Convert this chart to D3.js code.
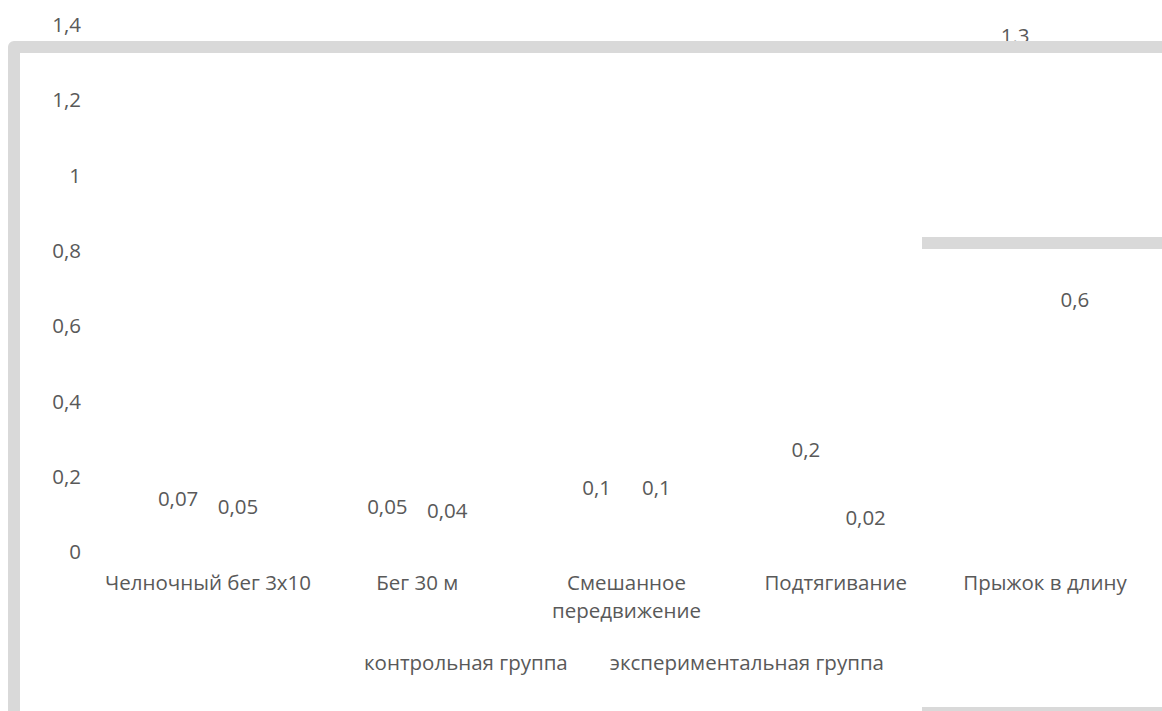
<!DOCTYPE html>
<html>
<head>
<meta charset="utf-8">
<script src="https://cdn.jsdelivr.net/npm/d3@7"></script>
<style>
  html, body { margin: 0; padding: 0; background: #ffffff; }
  svg { display: block; }
  text { font-family: "Open Sans", "Noto Sans", sans-serif; fill: #595959; }
</style>
</head>
<body>
<svg id="chart" width="1162" height="711"></svg>
<script>
// Прирост показателей физической подготовленности
const categories = ["Челночный бег 3х10", "Бег 30 м", "Смешанное передвижение", "Подтягивание", "Прыжок в длину"];
const seriesNames = ["контрольная группа", "экспериментальная группа"];
const controlValues = [0.07, 0.05, 0.1, 0.2, 1.3];
const experimentalValues = [0.05, 0.04, 0.1, 0.02, 0.6];
const controlLabels = ["0,07", "0,05", "0,1", "0,2", "1.3"];
const experimentalLabels = ["0,05", "0,04", "0,1", "0,02", "0,6"];
const yTicks = [0, 0.2, 0.4, 0.6, 0.8, 1, 1.2, 1.4];

const FONT = 20.5;
const svg = d3.select("#chart");

const ruLocale = d3.formatLocale({ decimal: ",", thousands: " ", grouping: [3], currency: ["", " ₽"] });
const fmt = ruLocale.format("~g");

const y = d3.scaleLinear().domain([0, 1.4]).range([551.5, 24.2]);
const x = d3.scaleBand().domain(categories).range([103.4, 1149.6]).padding(0);
const xs = d3.scaleBand().domain(seriesNames).range([0, x.bandwidth()]).paddingInner(0).paddingOuter(0.75);

const series = [
  { name: seriesNames[0], values: controlValues, labels: controlLabels },
  { name: seriesNames[1], values: experimentalValues, labels: experimentalLabels }
];

// Y axis: labels only, no line and no tick marks
const yAxis = svg.append("g")
  .attr("transform", "translate(81,0)")
  .call(d3.axisLeft(y).tickValues(yTicks).tickSize(0).tickPadding(0).tickFormat(fmt));
yAxis.select(".domain").remove();
yAxis.selectAll("text")
  .attr("font-size", FONT)
  .style("font-family", '"Open Sans", "Noto Sans", sans-serif')
  .attr("fill", "#595959")
  .attr("dy", "0.35em");

// Columns (no fill) and their value labels
const groups = svg.append("g").selectAll("g")
  .data(series).join("g");

groups.selectAll("rect")
  .data(s => s.values.map((v, i) => ({ v, cat: categories[i], s: s.name })))
  .join("rect")
  .attr("x", d => x(d.cat) + xs(d.s))
  .attr("width", xs.bandwidth())
  .attr("y", d => y(d.v))
  .attr("height", d => y(0) - y(d.v))
  .attr("fill", "none");

groups.selectAll("text")
  .data(s => s.values.map((v, i) => ({ v, cat: categories[i], s: s.name, label: s.labels[i] })))
  .join("text")
  .attr("x", d => x(d.cat) + xs(d.s) + xs.bandwidth() / 2)
  .attr("y", d => y(d.v) - 26)
  .attr("dy", "0.35em")
  .attr("text-anchor", "middle")
  .attr("font-size", FONT)
  .text(d => d.label);

// Category labels, wrapped to the band width
const catG = svg.append("g");
categories.forEach(c => {
  const cxm = x(c) + x.bandwidth() / 2;
  const t = catG.append("text")
    .attr("x", cxm)
    .attr("y", 583)
    .attr("text-anchor", "middle")
    .attr("font-size", FONT);
  const words = c.split(" ");
  let line = [];
  let tspan = t.append("tspan").attr("x", cxm).attr("dy", "0.35em");
  words.forEach(w => {
    line.push(w);
    tspan.text(line.join(" "));
    if (tspan.node().getComputedTextLength() > x.bandwidth() + 4 && line.length > 1) {
      line.pop();
      tspan.text(line.join(" "));
      line = [w];
      tspan = t.append("tspan").attr("x", cxm).attr("dy", "1.35em").text(w);
    }
  });
});

// Legend: names only
const legend = svg.append("g");
const legendTexts = legend.selectAll("text").data(seriesNames).join("text")
  .attr("y", 663)
  .attr("dy", "0.35em")
  .attr("font-size", FONT)
  .text(d => d);
const widths = legendTexts.nodes().map(n => n.getComputedTextLength());
const gap = 42;
const total = d3.sum(widths) + gap;
let cx = 624 - total / 2;
legendTexts.attr("x", (d, i) => {
  const p = cx;
  cx += widths[i] + gap;
  return p;
});

// Chart frame
const frame = svg.append("g")
  .attr("fill", "none")
  .attr("stroke", "#d9d9d9")
  .attr("stroke-width", 12);
frame.append("path")
  .attr("d", d3.line()([[14, 730], [14, 47], [1180, 47]]))
  .attr("stroke-linejoin", "round");
frame.append("path").attr("d", d3.line()([[922, 243], [1180, 243]]));
frame.append("path").attr("d", d3.line()([[922, 713], [1180, 713]]));
</script>
</body>
</html>
